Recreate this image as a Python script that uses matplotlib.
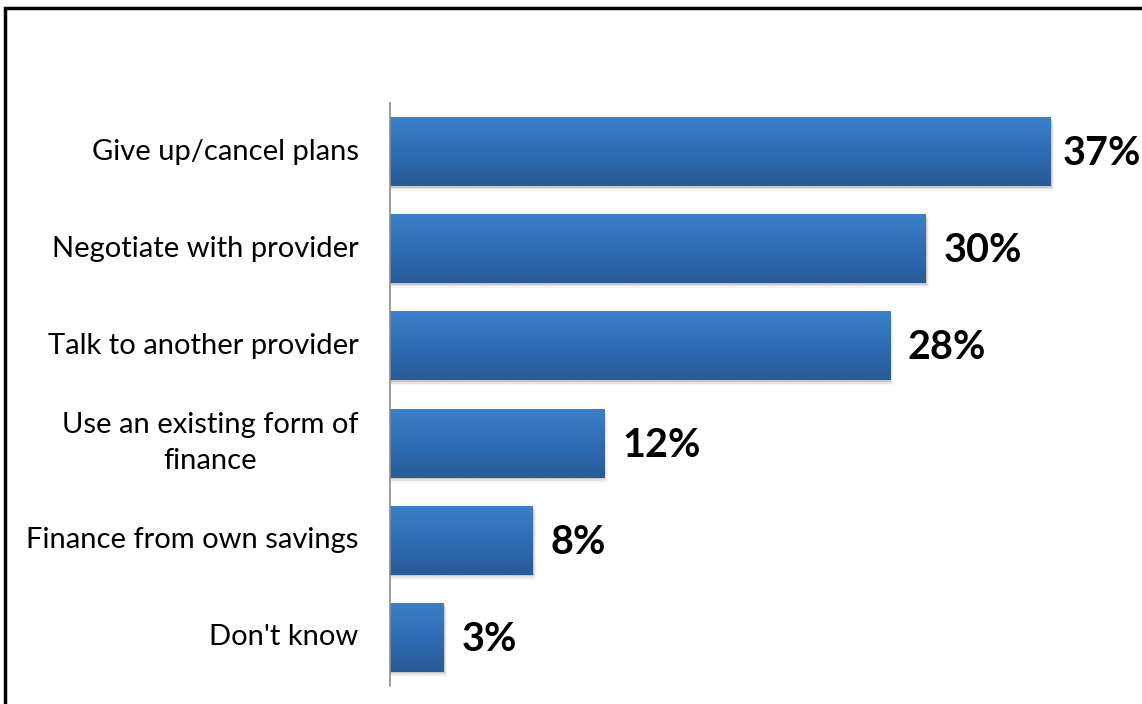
import matplotlib.pyplot as plt
from matplotlib.patches import Rectangle
from matplotlib.colors import LinearSegmentedColormap
import numpy as np

categories = ["Give up/cancel plans", "Negotiate with provider", "Talk to another provider",
              "Use an existing form of\nfinance", "Finance from own savings", "Don't know"]
values = [37, 30, 28, 12, 8, 3]
labels = ["37%", "30%", "28%", "12%", "8%", "3%"]

W, H = 1142, 704
fig = plt.figure(figsize=(W / 100, H / 100), dpi=100)
fig.patch.set_facecolor("white")

# outer frame, only top and left edges visible in the picture
fig.patches.append(Rectangle((5 / W, -0.1), 1.2, (H - 8) / H + 0.1, transform=fig.transFigure,
                             fill=False, edgecolor="black", linewidth=2.5))

ax = fig.add_axes([390 / W, 18 / H, 714.4 / W, 583 / H])
xmax = 40

grad = LinearSegmentedColormap.from_list("bar", ["#3b80cb", "#2f6cb4", "#285b98"])
g = np.linspace(0, 1, 64).reshape(-1, 1)
bar_h = 0.71

for i, v in enumerate(values):
    y0 = i - bar_h / 2
    # soft shadow, mostly below the bar
    for k, a in enumerate([0.12, 0.07, 0.035]):
        ax.add_patch(Rectangle((0, y0 + 0.015 + k * 0.018), v + 0.06 + k * 0.06, bar_h,
                               facecolor="black", alpha=a, edgecolor="none", zorder=1))
    ax.imshow(g, cmap=grad, aspect="auto", extent=(0, v, i + bar_h / 2, y0),
              zorder=2, interpolation="bilinear")
    # label squeezed closer when it runs out of room at the right edge
    gap = 1.0 if v < xmax - 4 else 0.67
    ax.text(v + gap, i + 0.02, labels[i], va="center", ha="left", fontsize=28.5, fontweight="bold",
            family="Lato", color="black", clip_on=False)
    ax.text(-1.75, i, categories[i], va="center", ha="right", multialignment="center",
            fontsize=21, family="Lato", color="black", linespacing=1.45, clip_on=False)

ax.set_xlim(0, xmax)
ax.set_ylim(len(categories) - 0.5, -0.5)
ax.set_xticks([])
ax.set_yticks([])
for s in ["top", "right", "bottom"]:
    ax.spines[s].set_visible(False)
ax.spines["left"].set_color("#8c8c8c")
ax.spines["left"].set_linewidth(1.2)
ax.set_facecolor("none")

fig.savefig("out.png", dpi=100)
